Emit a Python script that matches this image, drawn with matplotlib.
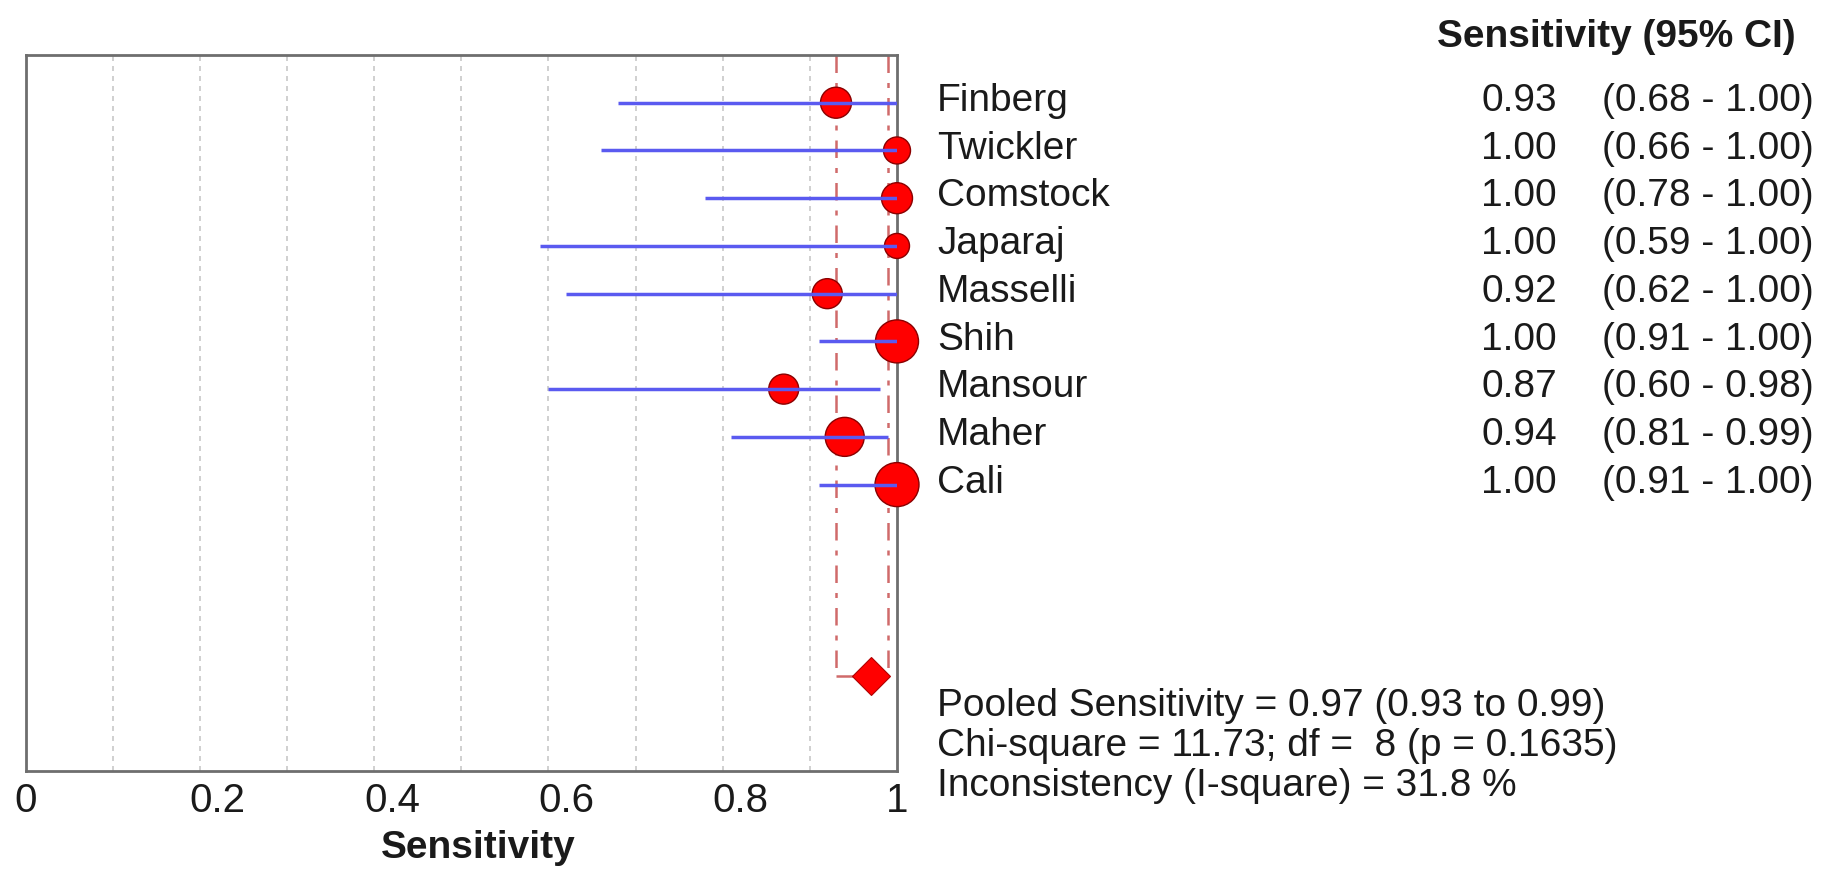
import matplotlib
matplotlib.use("Agg")
import matplotlib.pyplot as plt
import matplotlib.transforms as mtransforms

plt.rcParams['font.family'] = ['Liberation Sans', 'DejaVu Sans']

# ---- data ----
studies = ["Finberg", "Twickler", "Comstock", "Japaraj", "Masselli",
           "Shih", "Mansour", "Maher", "Cali"]
sens = [0.93, 1.00, 1.00, 1.00, 0.92, 1.00, 0.87, 0.94, 1.00]
ci_low = [0.68, 0.66, 0.78, 0.59, 0.62, 0.91, 0.60, 0.81, 0.91]
ci_high = [1.00, 1.00, 1.00, 1.00, 1.00, 1.00, 0.98, 0.99, 1.00]
study_weight = [31, 27, 31, 25, 30, 43, 30, 39, 44]   # relative marker size (px)

pooled = 0.97
pooled_low = 0.93
pooled_high = 0.99

xticks = [0, 0.2, 0.4, 0.6, 0.8, 1.0]
xtick_labels = ["0", "0.2", "0.4", "0.6", "0.8", "1"]
grid_x = [0.1, 0.2, 0.3, 0.4, 0.5, 0.6, 0.7, 0.8, 0.9]

stats_lines = ["Pooled Sensitivity = 0.97 (0.93 to 0.99)",
               "Chi-square = 11.73; df =  8 (p = 0.1635)",
               "Inconsistency (I-square) = 31.8 %"]

# ---- figure ----
W, H, DPI = 1846, 871, 100
fig = plt.figure(figsize=(W / DPI, H / DPI), dpi=DPI)
ax = fig.add_axes([25.5 / W, (H - 771) / H, 871.5 / W, 716 / H])

rows = list(range(len(studies)))
pooled_row = 12

ax.set_xlim(0, 1)
ax.set_ylim(14, -1)

# gridlines
for gx in grid_x:
    ax.axvline(gx, color='#c8c8c8', lw=1.2, ls=(0, (3, 3)), zorder=1)

# pooled CI reference lines
ax.vlines([pooled_low, pooled_high], -1, pooled_row, color='#d06a6a', lw=1.8,
          ls=(0, (7, 4, 2, 4)), zorder=2)
ax.hlines(pooled_row, pooled_low, pooled, color='#d06a6a', lw=1.8, zorder=2)

# study points
sizes = [(d * 0.72) ** 2 for d in study_weight]
ax.scatter(sens, rows, s=sizes, c='#ff0000', edgecolors='#8a0000',
           linewidths=1.0, zorder=3, clip_on=False)
ax.hlines(rows, ci_low, ci_high, color='#5a5af0', lw=2.5, zorder=4)

# pooled diamond
ax.plot([pooled], [pooled_row], marker='D', markersize=19, color='#ff0000',
        markeredgecolor='#b00000', markeredgewidth=0.8, zorder=5, clip_on=False)

# axes styling
for sp in ax.spines.values():
    sp.set_color('#6e6e6e')
    sp.set_linewidth(2)
ax.set_yticks([])
ax.set_xticks(xticks)
ax.set_xticklabels(xtick_labels, fontsize=29, color='#1a1a1a')
ax.tick_params(axis='x', length=0, pad=8)
# the middle tick labels sit a little to the right in the original
for lbl in ax.get_xticklabels()[1:-1]:
    lbl.set_transform(lbl.get_transform() +
                      mtransforms.ScaledTranslation(18 / DPI, 0, fig.dpi_scale_trans))

ax.set_xlabel("Sensitivity", fontsize=28, fontweight='bold', color='#1a1a1a')
ax.xaxis.set_label_coords(0.52, -0.082)

FS = 28
# right-hand text columns
tr = mtransforms.blended_transform_factory(fig.transFigure, ax.transData)
for r, name, v, lo, hi in zip(rows, studies, sens, ci_low, ci_high):
    y = r + 0.17
    fig.text(937 / W, y, name, transform=tr, fontsize=FS, ha='left',
             va='baseline', color='#1a1a1a')
    fig.text(1557 / W, y, f"{v:.2f}", transform=tr, fontsize=FS, ha='right',
             va='baseline', color='#1a1a1a')
    fig.text(1602 / W, y, f"({lo:.2f} - {hi:.2f})", transform=tr, fontsize=FS,
             ha='left', va='baseline', color='#1a1a1a')

fig.text(1437 / W, (H - 47) / H, "Sensitivity (95% CI)", fontsize=FS,
         fontweight='bold', ha='left', va='baseline', color='#1a1a1a')

for i, line in enumerate(stats_lines):
    fig.text(937 / W, (H - (716 + 40 * i)) / H, line, fontsize=FS,
             ha='left', va='baseline', color='#1a1a1a')

fig.savefig("out.png", dpi=DPI, facecolor='white')
